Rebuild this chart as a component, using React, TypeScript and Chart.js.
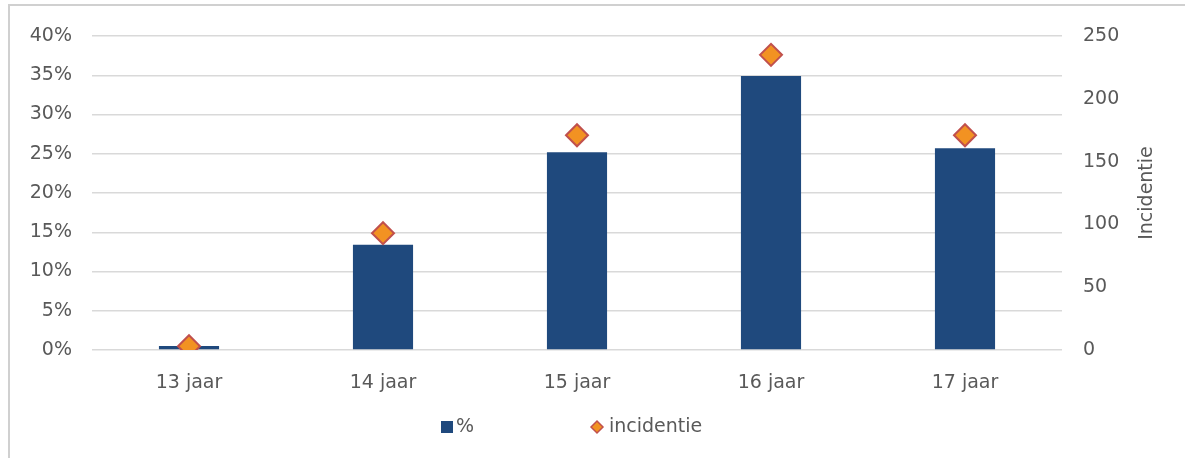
import React, { useEffect, useRef } from 'react';
import { Chart, registerables } from 'chart.js';
Chart.register(...registerables);

const categories = ['13 jaar', '14 jaar', '15 jaar', '16 jaar', '17 jaar'];
const percentValues = [0.5, 13.4, 25.2, 34.9, 25.7];
const incidenceValues = [3, 93, 171, 235, 171];
const legendLabels = ['%', 'incidentie'];
const rightAxisTitle = 'Incidentie';

const FONT = "'DejaVu Sans', 'Open Sans', sans-serif";
const FONT_SIZE = 19;
const TEXT = '#595959';
const BAR = '#1f497d';
const DIAMOND_FILL = '#f29222';
const DIAMOND_BORDER = '#c0504d';

const extrasPlugin = {
  id: 'extras',
  afterDraw(chart: any) {
    const ctx = chart.ctx;
    const area = chart.chartArea;
    ctx.save();
    ctx.fillStyle = TEXT;
    ctx.font = `${FONT_SIZE}px ${FONT}`;
    // right axis title, reading bottom-to-top
    ctx.save();
    ctx.translate(1147, (area.top + area.bottom) / 2);
    ctx.rotate(-Math.PI / 2);
    ctx.textAlign = 'center';
    ctx.textBaseline = 'middle';
    ctx.fillText(rightAxisTitle, 0, 0);
    ctx.restore();
    // legend
    const ly = 427;
    ctx.textBaseline = 'middle';
    ctx.textAlign = 'left';
    ctx.fillStyle = BAR;
    ctx.fillRect(441, ly - 6, 12, 12);
    ctx.fillStyle = TEXT;
    ctx.fillText(legendLabels[0], 456, ly);
    const dx = 597;
    ctx.beginPath();
    ctx.moveTo(dx - 6, ly);
    ctx.lineTo(dx, ly - 6);
    ctx.lineTo(dx + 6, ly);
    ctx.lineTo(dx, ly + 6);
    ctx.closePath();
    ctx.fillStyle = DIAMOND_FILL;
    ctx.fill();
    ctx.lineWidth = 1.5;
    ctx.strokeStyle = DIAMOND_BORDER;
    ctx.stroke();
    ctx.fillStyle = TEXT;
    ctx.fillText(legendLabels[1], 609, ly);
    ctx.restore();
  },
};

export default function App() {
  const ref = useRef<HTMLCanvasElement>(null);
  useEffect(() => {
    if (!ref.current) return;
    const tickFont = { family: FONT, size: FONT_SIZE };
    const chart = new Chart(ref.current, {
      type: 'bar',
      data: {
        labels: categories,
        datasets: [
          {
            type: 'bar',
            label: legendLabels[0],
            data: percentValues,
            backgroundColor: BAR,
            yAxisID: 'y',
            barPercentage: 0.31,
            categoryPercentage: 1,
            order: 1,
          },
          {
            type: 'line',
            label: legendLabels[1],
            data: incidenceValues,
            yAxisID: 'y1',
            showLine: false,
            pointStyle: 'rectRot',
            pointRadius: 11,
            pointBackgroundColor: DIAMOND_FILL,
            pointBorderColor: DIAMOND_BORDER,
            pointBorderWidth: 2,
            order: 0,
          } as any,
        ],
      },
      options: {
        responsive: false,
        animation: false,
        layout: { padding: { top: 36, left: 0, right: 0, bottom: 0 } },
        plugins: { legend: { display: false }, tooltip: { enabled: false } },
        scales: {
          x: {
            offset: true,
            grid: { display: false },
            border: { display: false },
            ticks: { color: TEXT, font: tickFont, padding: 14 },
            afterFit: (s: any) => { s.height = 108; },
          },
          y: {
            position: 'left',
            min: 0,
            max: 40,
            ticks: {
              stepSize: 5,
              color: TEXT,
              font: tickFont,
              padding: 20,
              callback: (v: any) => v + '%',
            },
            grid: { color: '#d9d9d9', lineWidth: 1.5, drawTicks: false },
            border: { display: false },
            afterFit: (s: any) => { s.width = 92; },
          },
          y1: {
            position: 'right',
            min: 0,
            max: 250,
            ticks: { stepSize: 50, color: TEXT, font: tickFont, padding: 21 },
            grid: { display: false, drawTicks: false },
            border: { display: false },
            afterFit: (s: any) => { s.width = 123; },
          },
        },
      },
      plugins: [extrasPlugin],
    });
    return () => chart.destroy();
  }, []);
  return (
    <div style={{ position: 'absolute', left: 0, top: 0, width: 1185, height: 458, overflow: 'hidden', background: '#fff' }}>
      <div style={{ position: 'absolute', left: 8, top: 4, width: 1200, height: 500, border: '2px solid #d0d0d0' }} />
      <canvas ref={ref} width={1185} height={458} style={{ position: 'absolute', left: 0, top: 0 }} />
    </div>
  );
}
